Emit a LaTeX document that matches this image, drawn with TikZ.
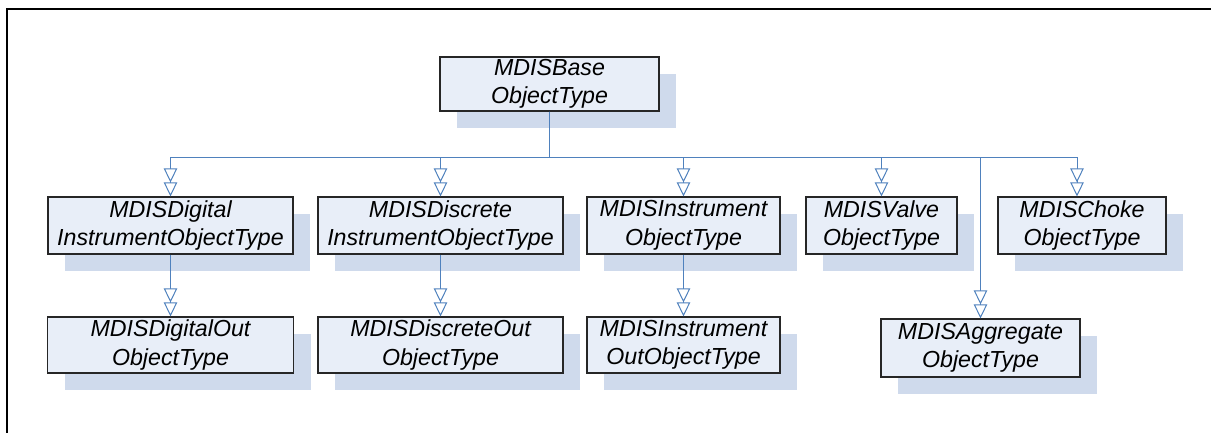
\documentclass[tikz,border=0pt]{standalone}
\usepackage{fontspec}
\setmainfont{Liberation Sans}
\usetikzlibrary{arrows.meta,shadows,calc}
\definecolor{boxfill}{HTML}{E8EEF8}
\definecolor{boxshadow}{HTML}{CFDAEC}
\definecolor{boxline}{HTML}{262626}
\definecolor{linkblue}{HTML}{4F81BD}
\tikzset{
  typebox/.style={draw=boxline, line width=1.2pt, fill=boxfill,
    general shadow={fill=boxshadow, shadow xshift=17pt, shadow yshift=-17pt},
    inner sep=0pt, align=center,
    font=\fontsize{23.2}{28.4}\selectfont\itshape},
  inherit/.style={draw=linkblue, line width=1pt,
    -{Triangle[open,length=14pt,width=13.5pt,line width=1pt,fill=white]
      Triangle[open,length=14pt,width=13.5pt,line width=1pt,fill=white]}},
  frameline/.style={draw=black, line width=2.7pt, line join=miter}
}
\begin{document}
\begin{tikzpicture}[x=1pt,y=-1pt]
\useasboundingbox (0,0) rectangle (1211,433);
% outer frame (only top and left edges fall inside the page)
\draw[frameline] (7,440) -- (7,9) -- (1220,9);

% base type
\node[typebox, minimum width=219pt, minimum height=54pt] (base) at (549.5,84) {MDISBase\\ObjectType};

% first level
\node[typebox, minimum width=245pt, minimum height=57pt] (dig)   at (170.5,225.5) {MDISDigital\\InstrumentObjectType};
\node[typebox, minimum width=245pt, minimum height=57pt] (disc)  at (440.5,225.5) {MDISDiscrete\\InstrumentObjectType};
\node[typebox, minimum width=193pt, minimum height=57pt] (instr) at (683.5,225.5) {MDISInstrument\\ObjectType};
\node[typebox, minimum width=151pt, minimum height=57pt] (valve) at (881.5,225.5) {MDISValve\\ObjectType};
\node[typebox, minimum width=168pt, minimum height=57pt] (choke) at (1082,225.5) {MDISChoke\\ObjectType};

% second level
\node[typebox, minimum width=246pt, minimum height=56pt] (digout)   at (170.5,345) {MDISDigitalOut\\ObjectType};
\node[typebox, minimum width=245pt, minimum height=56pt] (discout)  at (440.5,345) {MDISDiscreteOut\\ObjectType};
\node[typebox, minimum width=193pt, minimum height=56pt] (instrout) at (683.5,345) {MDISInstrument\\OutObjectType};
\node[typebox, minimum width=199pt, minimum height=58pt] (agg)      at (980.5,348) {MDISAggregate\\ObjectType};

% bus level under the base type
\coordinate (bus) at (0,158);

% inheritance links from the base type
\draw[inherit] (base.south) |- (bus -| dig.north) -- (dig.north);
\draw[inherit] (base.south) |- (bus -| disc.north) -- (disc.north);
\draw[inherit] (base.south) |- (bus -| instr.north) -- (instr.north);
\draw[inherit] (base.south) |- (bus -| valve.north) -- (valve.north);
\draw[inherit] (base.south) |- (bus -| agg.north) -- (agg.north);
\coordinate (chokein) at ([xshift=-5pt]choke.north);
\draw[inherit] (base.south) |- (bus -| chokein) -- (chokein);

% second-level links
\draw[inherit] (dig.south) -- (digout.north);
\draw[inherit] (disc.south) -- (discout.north);
\draw[inherit] (instr.south) -- (instrout.north);
\end{tikzpicture}
\end{document}
